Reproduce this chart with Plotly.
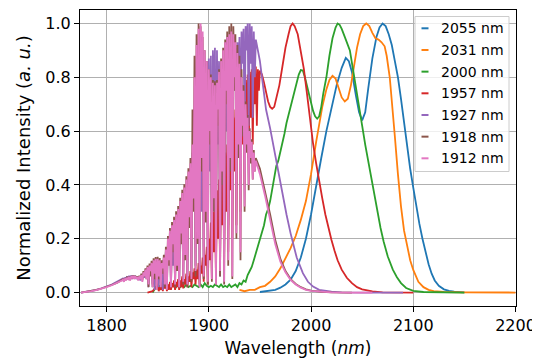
import plotly.graph_objects as go

# ---------------- data ----------------
labels = ["2055 nm", "2031 nm", "2000 nm", "1957 nm", "1927 nm", "1918 nm", "1912 nm"]
colors = ["#1f77b4", "#ff7f0e", "#2ca02c", "#d62728", "#9467bd", "#8c564b", "#e377c2"]

# 2055 nm (blue)
blue_wl = [1950, 1955, 1960, 1965, 1970, 1975, 1980, 1985, 1990, 1995, 2000, 2005, 2010, 2015, 2020,
           2025, 2030, 2034, 2037, 2040, 2044, 2047, 2050, 2053, 2056, 2060, 2064, 2067, 2070, 2073,
           2076, 2079, 2082, 2085, 2088, 2091, 2094, 2097, 2100, 2103, 2106, 2109, 2112, 2115, 2118,
           2121, 2125, 2130, 2135, 2140, 2150]
blue_val = [0.002, 0.004, 0.006, 0.01, 0.018, 0.03, 0.048, 0.08, 0.13, 0.2, 0.29, 0.4, 0.5, 0.6, 0.69,
            0.77, 0.835, 0.872, 0.86, 0.82, 0.73, 0.67, 0.64, 0.67, 0.76, 0.87, 0.95, 0.985, 1.0, 0.99,
            0.96, 0.92, 0.86, 0.80, 0.72, 0.63, 0.54, 0.46, 0.39, 0.32, 0.255, 0.2, 0.15, 0.105, 0.07,
            0.045, 0.025, 0.012, 0.006, 0.003, 0.001]

# 2031 nm (orange)
orange_wl = [1930, 1935, 1940, 1945, 1950, 1955, 1960, 1965, 1970, 1975, 1980, 1985, 1990, 1995, 2000,
             2005, 2008, 2011, 2015, 2018, 2021, 2024, 2027, 2030, 2033, 2036, 2039, 2042, 2045, 2048,
             2051, 2054, 2057, 2060, 2063, 2066, 2069, 2072, 2074, 2077, 2080, 2082, 2085, 2088, 2091,
             2094, 2097, 2100, 2105, 2110, 2115, 2120, 2130, 2150, 2200]
orange_val = [0.01, 0.005, 0.01, 0.01, 0.02, 0.025, 0.04, 0.06, 0.09, 0.125, 0.165, 0.21, 0.27, 0.34, 0.44,
              0.56, 0.63, 0.69, 0.755, 0.79, 0.805, 0.795, 0.76, 0.725, 0.71, 0.72, 0.77, 0.84, 0.91, 0.96,
              0.99, 1.0, 0.99, 0.965, 0.945, 0.94, 0.93, 0.915, 0.88, 0.80, 0.68, 0.58, 0.44, 0.32, 0.23,
              0.17, 0.12, 0.084, 0.04, 0.02, 0.01, 0.005, 0.002, 0.001, 0.0]

# 2000 nm (green)
green_wl = [1845, 1848, 1850, 1852, 1854, 1856, 1858, 1860, 1862, 1864, 1866, 1868, 1870, 1872, 1874,
            1876, 1878, 1880, 1882, 1884, 1886, 1888, 1890, 1892, 1894, 1896, 1898, 1900, 1902, 1904,
            1906, 1908, 1910, 1912, 1914, 1916, 1918, 1920, 1922, 1924, 1926, 1928, 1930, 1932, 1934,
            1936, 1938, 1940, 1942, 1944, 1946, 1948, 1950, 1952, 1954, 1956, 1958, 1960, 1962, 1964,
            1966, 1968, 1970, 1972, 1974, 1976, 1978, 1980, 1982, 1984, 1986, 1988, 1990, 1992, 1994,
            1996, 1998, 2000, 2002, 2004, 2006, 2008, 2010, 2012, 2015, 2018, 2021, 2024, 2026, 2028,
            2030, 2033, 2036, 2038, 2041, 2044, 2047, 2050, 2053, 2056, 2059, 2062, 2065, 2068, 2071,
            2075, 2080, 2084, 2088, 2093, 2100, 2110, 2150]
green_val = [0.0, 0.02, 0.03, 0.02, 0.035, 0.025, 0.03, 0.02, 0.03, 0.025, 0.035, 0.02, 0.03, 0.02, 0.025,
             0.02, 0.03, 0.02, 0.025, 0.02, 0.03, 0.025, 0.02, 0.03, 0.02, 0.035, 0.025, 0.02, 0.025, 0.02,
             0.03, 0.025, 0.02, 0.03, 0.02, 0.025, 0.02, 0.03, 0.02, 0.025, 0.03, 0.02, 0.035, 0.03, 0.045,
             0.04, 0.065, 0.08, 0.095, 0.12, 0.145, 0.17, 0.2, 0.22, 0.25, 0.29, 0.31, 0.34, 0.38, 0.42,
             0.47, 0.49, 0.52, 0.56, 0.59, 0.63, 0.66, 0.69, 0.725, 0.755, 0.785, 0.81, 0.827, 0.825, 0.8,
             0.77, 0.73, 0.70, 0.675, 0.655, 0.646, 0.655, 0.69, 0.74, 0.80, 0.88, 0.945, 0.985, 1.0, 0.995,
             0.98, 0.95, 0.92, 0.90, 0.83, 0.755, 0.68, 0.62, 0.55, 0.485, 0.42, 0.36, 0.295, 0.24, 0.19,
             0.135, 0.085, 0.057, 0.035, 0.017, 0.006, 0.002, 0.0]

# 1957 nm (red): smooth start, noisy band (maxima on even nm, minima on odd nm), smooth tail
red_head_wl = [1840, 1845]
red_head_val = [0.0, 0.005]
red_band_start = 1850
red_tops = [0.03, 0.02, 0.035, 0.03, 0.04, 0.03, 0.04, 0.035, 0.045, 0.04, 0.05, 0.045, 0.06, 0.05, 0.07,
            0.06, 0.08, 0.075, 0.09, 0.085,
            0.11, 0.10, 0.13, 0.14, 0.17, 0.20, 0.26, 0.30, 0.34, 0.38,
            0.42, 0.45, 0.49, 0.52, 0.55, 0.58, 0.62, 0.65, 0.68, 0.71,
            0.73, 0.75, 0.77, 0.79, 0.81, 0.82, 0.83, 0.84, 0.84, 0.83, 0.825]
red_dips = [0.005, 0.01, 0.005, 0.015, 0.005, 0.01, 0.01, 0.02, 0.01, 0.02, 0.01, 0.02, 0.015, 0.03, 0.02,
            0.04, 0.02, 0.05, 0.03, 0.05,
            0.03, 0.07, 0.04, 0.10, 0.03, 0.12, 0.05, 0.15, 0.06, 0.20,
            0.10, 0.25, 0.12, 0.30, 0.15, 0.38, 0.20, 0.45, 0.25, 0.50,
            0.30, 0.55, 0.40, 0.60, 0.50, 0.65, 0.55, 0.70, 0.62, 0.75]
red_tail_wl = [1952, 1954, 1956, 1958, 1960, 1962, 1964, 1966, 1969, 1972, 1975, 1978, 1980, 1982, 1984,
               1987, 1990, 1993, 1996, 1999, 2002, 2005, 2008, 2011, 2014, 2017, 2020, 2023, 2026, 2030,
               2035, 2040, 2045, 2050, 2060, 2070, 2100]
red_tail_val = [0.81, 0.78, 0.74, 0.71, 0.69, 0.683, 0.69, 0.72, 0.77, 0.84, 0.91, 0.96, 0.99, 1.0, 0.99,
                0.96, 0.90, 0.83, 0.74, 0.64, 0.553, 0.48, 0.41, 0.35, 0.29, 0.24, 0.195, 0.155, 0.12, 0.085,
                0.055, 0.035, 0.02, 0.012, 0.004, 0.001, 0.0]

# 1927 nm (purple)
purple_head_wl = [1775, 1780, 1785, 1790, 1795, 1800, 1805, 1810, 1815]
purple_head_val = [0.0, 0.003, 0.006, 0.01, 0.016, 0.022, 0.03, 0.04, 0.05]
band_start = 1816
purple_tops = [0.052, 0.056, 0.06, 0.062, 0.063, 0.064, 0.062, 0.06, 0.058, 0.062, 0.07, 0.08,
               0.09, 0.097, 0.105, 0.11, 0.115, 0.115, 0.11, 0.10, 0.12, 0.15, 0.18, 0.21, 0.23, 0.25,
               0.27, 0.29, 0.31, 0.34, 0.36, 0.39,
               0.42, 0.46, 0.52, 0.62, 0.70, 0.76, 0.80, 0.83, 0.85, 0.86,
               0.87, 0.88, 0.90, 0.91, 0.90, 0.86, 0.82, 0.79, 0.78, 0.80,
               0.83, 0.86, 0.89, 0.91, 0.93, 0.95, 0.97, 0.98, 0.99, 1.0,
               1.0, 0.99, 0.97, 0.94]
purple_dips = [0.045, 0.05, 0.052, 0.055, 0.05, 0.056, 0.05, 0.052, 0.045, 0.05, 0.055, 0.06,
               0.02, 0.07, 0.03, 0.01, 0.08, 0.02, 0.06, 0.01, 0.09, 0.04, 0.14, 0.02, 0.10, 0.03,
               0.18, 0.02, 0.25, 0.05, 0.15, 0.03,
               0.30, 0.06, 0.40, 0.10, 0.50, 0.05, 0.30, 0.08, 0.60, 0.10,
               0.45, 0.05, 0.70, 0.20, 0.55, 0.06, 0.65, 0.15, 0.60, 0.25,
               0.70, 0.35, 0.75, 0.45, 0.80, 0.50, 0.85, 0.55, 0.90, 0.62,
               0.85, 0.65, 0.80]
purple_tail_wl = [1948, 1950, 1953, 1956, 1960, 1963, 1966, 1970, 1973, 1976, 1980, 1986, 1992, 1997, 2002,
                  2008, 2020, 2030, 2050, 2090]
purple_tail_val = [0.90, 0.86, 0.77, 0.68, 0.61, 0.55, 0.49, 0.40, 0.35, 0.29, 0.22, 0.13, 0.072, 0.04, 0.022,
                   0.01, 0.003, 0.001, 0.0, 0.0]

# 1918 nm (brown)
brown_head_wl = [1775, 1780, 1785, 1790, 1795, 1800, 1805, 1810, 1815]
brown_head_val = [0.0, 0.003, 0.006, 0.01, 0.015, 0.021, 0.028, 0.036, 0.046]
brown_tops = [0.049, 0.053, 0.056, 0.059, 0.061, 0.063, 0.062, 0.06, 0.063, 0.07, 0.08, 0.09,
              0.10, 0.108, 0.118, 0.127, 0.132, 0.133, 0.128, 0.12, 0.14, 0.17, 0.21, 0.24, 0.262, 0.282,
              0.302, 0.322, 0.352, 0.382, 0.402, 0.432,
              0.462, 0.50, 0.68, 0.88, 0.96, 1.0, 0.99, 0.95, 0.90, 0.86,
              0.83, 0.81, 0.79, 0.785, 0.79, 0.83, 0.87, 0.91, 0.94, 0.97,
              0.99, 1.0, 0.99, 0.96, 0.92, 0.88, 0.83, 0.77, 0.71, 0.66,
              0.61, 0.57, 0.53, 0.50]
brown_dips = [0.042, 0.047, 0.051, 0.047, 0.056, 0.052, 0.053, 0.047, 0.052, 0.045, 0.06, 0.05,
              0.02, 0.06, 0.02, 0.05, 0.01, 0.05, 0.02, 0.07, 0.02, 0.01, 0.10, 0.02, 0.15, 0.02,
              0.08, 0.02, 0.18, 0.03, 0.12, 0.02,
              0.24, 0.04, 0.30, 0.06, 0.18, 0.02, 0.45, 0.05, 0.26, 0.03,
              0.55, 0.04, 0.30, 0.03, 0.62, 0.06, 0.40, 0.03, 0.70, 0.10,
              0.45, 0.05, 0.75, 0.20, 0.50, 0.12, 0.58, 0.30, 0.52, 0.38,
              0.48, 0.42, 0.45]
brown_tail_wl = [1950, 1955, 1960, 1965, 1970, 1975, 1980, 1985, 1990, 1995, 2000, 2010, 2020, 2040]
brown_tail_val = [0.46, 0.38, 0.29, 0.195, 0.125, 0.08, 0.05, 0.032, 0.02, 0.012, 0.007, 0.003, 0.001, 0.0]

# 1912 nm (pink)
pink_head_wl = [1775, 1780, 1785, 1790, 1795, 1800, 1805, 1810, 1815]
pink_head_val = [0.0, 0.002, 0.005, 0.009, 0.014, 0.02, 0.027, 0.035, 0.045]
pink_tops = [0.048, 0.052, 0.055, 0.058, 0.06, 0.062, 0.06, 0.058, 0.06, 0.065, 0.075, 0.085,
             0.095, 0.10, 0.11, 0.12, 0.125, 0.125, 0.12, 0.11, 0.13, 0.16, 0.20, 0.23, 0.25, 0.27,
             0.29, 0.31, 0.34, 0.37, 0.39, 0.42,
             0.45, 0.48, 0.55, 0.80, 0.92, 0.98, 1.0, 0.97, 0.90, 0.86,
             0.83, 0.80, 0.78, 0.77, 0.78, 0.82, 0.86, 0.90, 0.93, 0.95,
             0.96, 0.97, 0.96, 0.93, 0.89, 0.85, 0.80, 0.75, 0.70, 0.65,
             0.60, 0.56, 0.52, 0.49]
pink_dips = [0.04, 0.045, 0.05, 0.045, 0.055, 0.05, 0.052, 0.045, 0.05, 0.04, 0.06, 0.05,
             0.03, 0.08, 0.02, 0.07, 0.01, 0.06, 0.02, 0.09, 0.03, 0.01, 0.12, 0.02, 0.18, 0.03,
             0.10, 0.02, 0.22, 0.04, 0.14, 0.03,
             0.28, 0.05, 0.35, 0.08, 0.20, 0.02, 0.50, 0.06, 0.30, 0.04,
             0.60, 0.05, 0.35, 0.03, 0.68, 0.08, 0.45, 0.04, 0.75, 0.12,
             0.50, 0.06, 0.80, 0.22, 0.55, 0.15, 0.62, 0.32, 0.55, 0.40,
             0.50, 0.42, 0.45]
pink_tail_wl = [1950, 1955, 1960, 1965, 1970, 1975, 1980, 1985, 1990, 1995, 2000, 2010, 2020, 2040, 2060]
pink_tail_val = [0.44, 0.36, 0.27, 0.18, 0.115, 0.075, 0.047, 0.03, 0.018, 0.01, 0.006, 0.003, 0.001, 0.0, 0.0]

x_ticks = [1800, 1900, 2000, 2100, 2200]
y_ticks = [0.0, 0.2, 0.4, 0.6, 0.8, 1.0]


def band(start, tops, dips):
    """Interleave maxima (even offsets) and minima (odd offsets) of a noisy band."""
    xs, ys = [], []
    for i, t in enumerate(tops):
        xs.append(start + 2 * i)
        ys.append(t)
        if i < len(dips):
            xs.append(start + 2 * i + 1)
            ys.append(dips[i])
    return xs, ys


def assemble(head_wl, head_val, start, tops, dips, tail_wl, tail_val):
    bx, by = band(start, tops, dips)
    return head_wl + bx + tail_wl, head_val + by + tail_val


series = [
    (blue_wl, blue_val),
    (orange_wl, orange_val),
    (green_wl, green_val),
    assemble(red_head_wl, red_head_val, red_band_start, red_tops, red_dips, red_tail_wl, red_tail_val),
    assemble(purple_head_wl, purple_head_val, band_start, purple_tops, purple_dips, purple_tail_wl, purple_tail_val),
    assemble(brown_head_wl, brown_head_val, band_start, brown_tops, brown_dips, brown_tail_wl, brown_tail_val),
    assemble(pink_head_wl, pink_head_val, band_start, pink_tops, pink_dips, pink_tail_wl, pink_tail_val),
]

FONT = "DejaVu Sans"
fig = go.Figure()
for (xs, ys), name, col in zip(series, labels, colors):
    fig.add_trace(go.Scatter(x=xs, y=ys, mode="lines", name=name,
                             line=dict(color=col, width=1.8), showlegend=False))

# The page body has an 8 px margin, so the figure is 8 px smaller and its
# margins are given in figure pixels (page pixel - 8).
OFF = 8
FW, FH = 540 - OFF, 363 - OFF
L, R, T, B = 80 - OFF, 516 - OFF, 10 - OFF, 306 - OFF
W, H = R - L, B - T


def px(x):
    return (x - OFF - L) / W


def py(y):
    return (B - (y - OFF)) / H


# ---- legend drawn matplotlib-style (short handles), page-pixel positions ----
shapes = [dict(type="rect", xref="paper", yref="paper", layer="above",
               x0=px(415), x1=px(509), y0=py(171.5), y1=py(16.5),
               line=dict(color="#cccccc", width=1), fillcolor="rgba(255,255,255,0.8)")]
annotations = []
for i, (name, col) in enumerate(zip(labels, colors)):
    yc = 28.3 + i * 21.67
    shapes.append(dict(type="line", xref="paper", yref="paper", layer="above",
                       x0=px(421.5), x1=px(428.5), y0=py(yc), y1=py(yc),
                       line=dict(color=col, width=2)))
    annotations.append(dict(xref="paper", yref="paper", x=px(438.5), y=py(yc),
                            xanchor="left", yanchor="middle", showarrow=False, text=name,
                            font=dict(family=FONT, size=14, color="black")))

fig.update_layout(
    width=FW, height=FH,
    margin=dict(l=L, r=FW - R, t=T, b=FH - B, autoexpand=False),
    paper_bgcolor="white", plot_bgcolor="white",
    font=dict(family=FONT, color="black"),
    shapes=shapes, annotations=annotations,
    showlegend=False,
)
fig.update_xaxes(range=[1774, 2200.5], tickvals=x_ticks, ticktext=[str(v) for v in x_ticks],
                 automargin=False,
                 showgrid=True, gridcolor="#b0b0b0", gridwidth=1,
                 showline=True, linecolor="black", linewidth=1, mirror=True,
                 ticks="outside", ticklen=5, tickcolor="black", zeroline=False,
                 tickfont=dict(family=FONT, size=16, color="black"),
                 title=dict(text="Wavelength (<i>nm</i>)", standoff=7,
                            font=dict(family=FONT, size=17, color="black")))
fig.update_yaxes(range=[-0.05, 1.05], tickvals=y_ticks, ticktext=[f"{v:.1f}" for v in y_ticks],
                 automargin=False,
                 showgrid=True, gridcolor="#b0b0b0", gridwidth=1,
                 showline=True, linecolor="black", linewidth=1, mirror=True,
                 ticks="outside", ticklen=5, tickcolor="black", zeroline=False,
                 tickfont=dict(family=FONT, size=16, color="black"),
                 title=dict(text="Normalized Intensity (<i>a. u.</i>)", standoff=10,
                            font=dict(family=FONT, size=18, color="black")))

fig.write_html("out.html")
